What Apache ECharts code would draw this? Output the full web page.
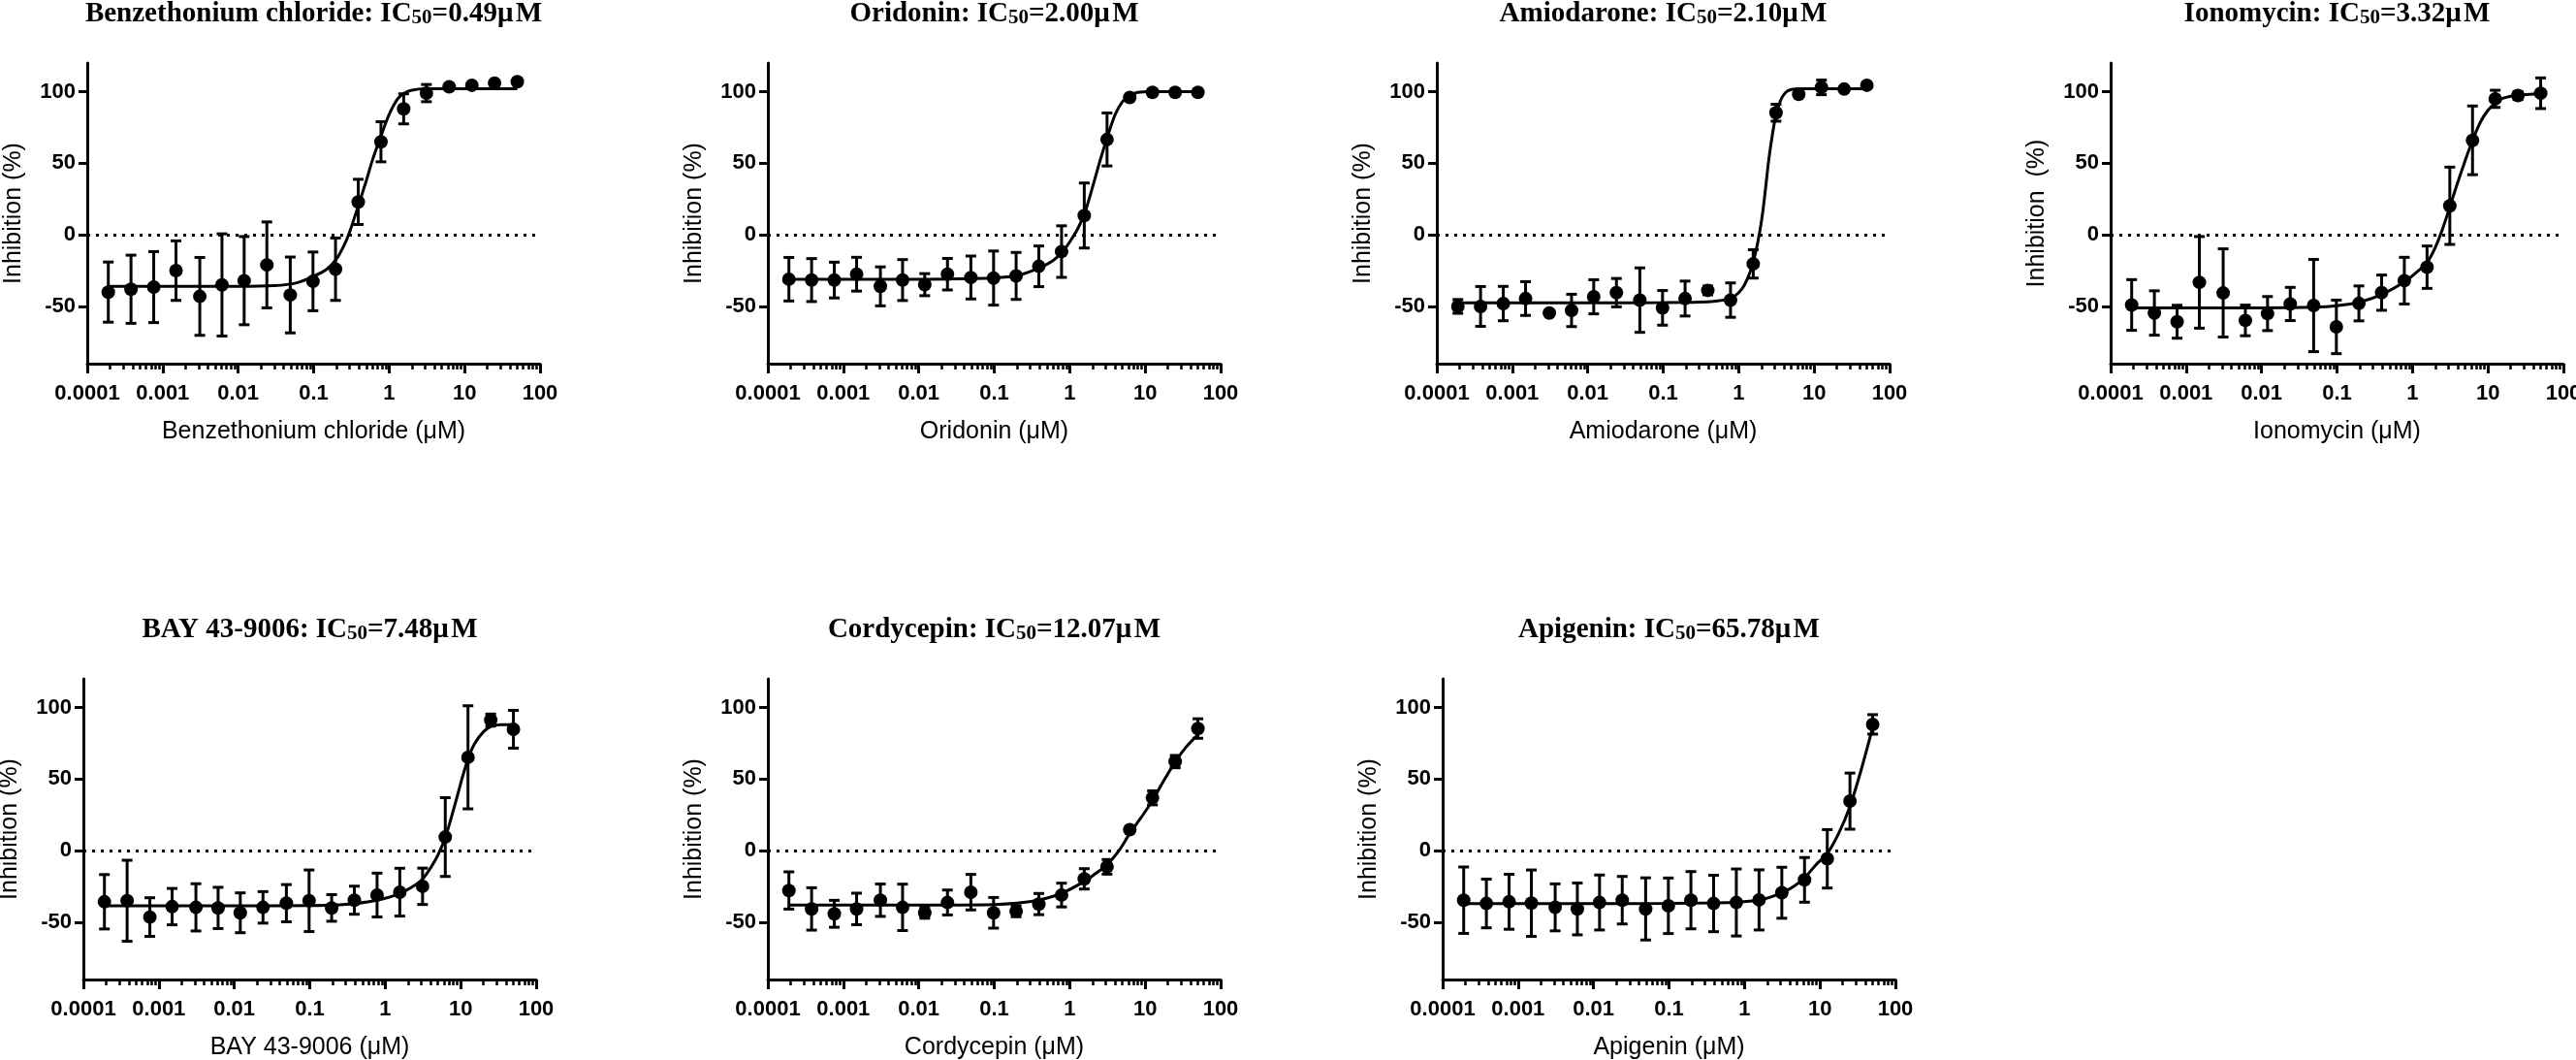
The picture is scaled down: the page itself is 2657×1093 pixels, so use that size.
<!DOCTYPE html>
<html>
<head>
<meta charset="utf-8">
<script src="https://cdn.jsdelivr.net/npm/echarts@6/dist/echarts.min.js"></script>
<style>
  html,body{margin:0;padding:0;background:#fff;}
  #chart{width:2657px;height:1093px;}
</style>
</head>
<body>
<div id="chart"></div>
<script>
// doses (µM), 2-fold dilution from 50
const doses = [0.00019,0.00038,0.00076,0.0015,0.0031,0.0061,0.012,0.024,0.049,0.098,0.195,0.39,0.78,1.56,3.125,6.25,12.5,25,50];

const names = ["Benzethonium chloride","Oridonin","Amiodarone","Ionomycin","BAY 43-9006","Cordycepin","Apigenin"];
const ic50Text = ["0.49","2.00","2.10","3.32","7.48","12.07","65.78"];
const yNames = ["Inhibition (%)","Inhibition (%)","Inhibition (%)","Inhibition  (%)","Inhibition (%)","Inhibition (%)","Inhibition (%)"];

const yTicks = [-50,0,50,100];
const xTicks = [0.0001,0.001,0.01,0.1,1,10,100];
const xTickLabels = ["0.0001","0.001","0.01","0.1","1","10","100"];
const xMinor = [0.0002,0.0003,0.0004,0.0005,0.0006,0.0007,0.0008,0.0009,
  0.002,0.003,0.004,0.005,0.006,0.007,0.008,0.009,
  0.02,0.03,0.04,0.05,0.06,0.07,0.08,0.09,
  0.2,0.3,0.4,0.5,0.6,0.7,0.8,0.9,
  2,3,4,5,6,7,8,9,
  20,30,40,50,60,70,80,90];

// mean / SD per compound
const benzMean = [-40,-38,-36.5,-25,-43,-35,-32,-21,-42,-32.5,-24,23,65,88,99,103.4,104.5,106,107];
const benzSd   = [21,23.8,24.8,20.8,27.2,35.7,30.8,30,26.5,20.5,21.8,15.8,14,10.5,6,0,0,0,0];
const oriMean  = [-31,-31.6,-31.6,-27.5,-36,-31.6,-34.8,-27.5,-29.8,-30.2,-28.7,-22,-11.7,13.5,66.6,96,99.5,99.5,99.5];
const oriSd    = [15.2,15,12.5,11.8,13.6,14.3,7.7,11,15,18.9,16.4,14.2,18,22.7,18.5,0,0,0,0];
const amioMean = [-50,-50,-48,-44.5,-54.6,-52.8,-43.3,-40.4,-45.6,-51,-44.5,-38.8,-45.6,-20.3,85.3,98.2,103,101.8,104.5];
const amioSd   = [4.8,13.9,12,11.8,0,11.3,11.9,9.9,22.5,12.1,12.2,3,12,9.9,5.9,0,5.1,0,0];
const ionoMean = [-49,-54.6,-60.7,-33.2,-40.6,-59.8,-55,-48.3,-49.4,-64.3,-47.9,-40.4,-32,-22.6,20.3,66,95,97.3,98.9];
const ionoSd   = [17.7,15.5,11.5,32,30.8,10.7,11.9,11.6,32.2,18.7,12.2,12.3,16.3,14.8,27,24,6,2.8,10.7];
const bayMean  = [-35.7,-35,-46.4,-39.1,-39.6,-40,-43.4,-39.6,-36.7,-35,-40,-34.6,-31,-29,-24.9,9.5,65.2,91.2,84.8];
const baySd    = [19,28.3,13.5,12.7,16.5,14.4,13.9,11,13,21.5,9.3,9.8,15.3,16.7,12.7,27.5,36,4.2,13.2];
const cordMean = [-27.8,-40.7,-44.1,-40.7,-34.6,-39.6,-43.4,-36.2,-29,-43.4,-42.3,-37.3,-31,-19.7,-11.3,14.7,36.9,62.2,85.3];
const cordSd   = [13,14.8,9.4,11,11.3,16.2,3.8,8.7,12.4,10.7,3.8,7.4,8.3,7.1,5.1,0,4.9,4.3,6.8];
const apiMean  = [-34.6,-36.9,-35.7,-36.7,-39.6,-40.7,-36.2,-34.6,-40.7,-38.5,-34.6,-36.9,-36.2,-34.4,-29.4,-20.4,-5.7,34.6,88.2];
const apiSd    = [23.2,17,19.2,23.2,16.4,18.1,19.2,16.6,21.7,19.4,20,19.7,23.4,21,17.8,15.6,20.4,19.6,6.8];

// fitted curves
const benzFitX = [0.00019,0.001,0.01,0.03,0.06,0.1,0.15,0.2,0.25,0.3,0.4,0.5,0.6,0.78,1,1.3,1.6,2,3,6,12,25,50];
const benzFitY = [-36,-36,-36,-35.5,-33.5,-29,-24,-17,-8,2,22,38,52,69,84,95,99,101,102,102,102,102,102];
const oriFitX  = [0.00019,0.001,0.01,0.05,0.1,0.2,0.4,0.6,0.8,1,1.3,1.6,2,2.5,3.1,4,5,6.25,8,12,25,50];
const oriFitY  = [-31,-31,-31,-30.5,-30,-28.5,-23,-18,-12,-5,5,16,33,51,67,84,93,97.5,99.5,100,100,100];
const amioFitX = [0.00019,0.001,0.01,0.1,0.3,0.5,0.7,0.9,1.1,1.3,1.5,1.7,1.9,2.1,2.3,2.5,2.8,3.1,3.6,4.2,5,7,12,25,50];
const amioFitY = [-47.5,-47.5,-47.5,-47.3,-47,-46.3,-45,-42.5,-38,-31,-22,-11,2,17,35,52,70,83,94,99.5,101.5,102,102,102,102];
const ionoFitX = [0.00019,0.001,0.01,0.05,0.1,0.2,0.4,0.8,1.2,1.56,2,2.5,3.1,4,5,6.25,8,10,12.5,16,25,50];
const ionoFitY = [-51,-51,-51,-50.5,-49.5,-47,-41.5,-32.5,-25,-19.5,-9,4,19,37,52,66,79,87,92,95.5,97.5,98.5];
const bayFitX  = [0.00019,0.001,0.01,0.1,0.2,0.4,0.8,1.56,2.5,3.1,4,5,6.25,7.5,9,10.5,12.5,15,20,26,35,50];
const bayFitY  = [-38.5,-38.5,-38.5,-38.3,-38,-37,-34.5,-30,-24,-20,-12,-3,9,23,38,51,64,74,83,87,88,88];
const cordFitX = [0.00019,0.001,0.01,0.1,0.2,0.39,0.78,1.56,2.2,3.1,4.5,6.25,8.8,12.5,17.7,25,35,50];
const cordFitY = [-38,-38,-38,-37.6,-36.7,-34.5,-29.8,-21.5,-16,-10,0,12,23,35,49,62,72.5,81];
const apiFitX  = [0.00019,0.001,0.01,0.1,0.4,0.8,1.56,2.2,3.1,4.5,6.25,8.8,12.5,17.7,25,35,50];
const apiFitY  = [-37,-37,-37,-36.8,-36.5,-36,-34.5,-32.5,-29.5,-25,-19,-10,-2,12,31,56,86];

const means = [benzMean,oriMean,amioMean,ionoMean,bayMean,cordMean,apiMean];
const sds   = [benzSd,oriSd,amioSd,ionoSd,baySd,cordSd,apiSd];
const fitXs = [benzFitX,oriFitX,amioFitX,ionoFitX,bayFitX,cordFitX,apiFitX];
const fitYs = [benzFitY,oriFitY,amioFitY,ionoFitY,bayFitY,cordFitY,apiFitY];

// panel placement (px)
const panelLeft = [90,792,1482,2177,86,792,1488];
const panelTop  = [65,65,65,65,700,700,700];
const panelW = 467, panelH = 310;

const SANS = "'Liberation Sans', Arial, Helvetica, sans-serif";
const SERIF = "'Liberation Serif', 'Times New Roman', serif";

function errorBars(params, api){
  const x = api.value(0), m = api.value(1), s = api.value(2);
  if(!s) return null;
  const top = api.coord([x, m + s]);
  const bot = api.coord([x, m - s]);
  const hw = 5.5;
  const st = { stroke: "#000", lineWidth: 3 };
  return {
    type: "group",
    children: [
      { type: "line", shape: { x1: top[0], y1: top[1], x2: bot[0], y2: bot[1] }, style: st },
      { type: "line", shape: { x1: top[0]-hw, y1: top[1], x2: top[0]+hw, y2: top[1] }, style: st },
      { type: "line", shape: { x1: bot[0]-hw, y1: bot[1], x2: bot[0]+hw, y2: bot[1] }, style: st }
    ]
  };
}

const grids = [], xAxes = [], yAxes = [], series = [], titles = [];

names.forEach((nm, i)=>{
  grids.push({ left: panelLeft[i], top: panelTop[i], width: panelW, height: panelH, outerBoundsMode: "none" });

  titles.push({
    text: `{m|${nm}: IC}{s|50}{m|=${ic50Text[i]}μ\u200AM}`,
    left: panelLeft[i] + panelW/2,
    top: panelTop[i] - 64,
    textAlign: "center",
    padding: 0,
    textStyle: {
      rich: {
        m: { fontFamily: SERIF, fontWeight: "bold", fontSize: 29, color: "#000", lineHeight: 28 },
        s: { fontFamily: SERIF, fontWeight: "bold", fontSize: 21, color: "#000", lineHeight: 9, verticalAlign: "bottom" }
      }
    }
  });

  // main x axis (decades + labels)
  xAxes.push({
    type: "log", logBase: 10, gridIndex: i, position: "bottom",
    min: 0.0001, max: 100,
    name: `${nm} (μM)`, nameLocation: "middle", nameGap: 58,
    nameTextStyle: { fontFamily: SANS, fontSize: 25, color: "#000" },
    axisLine: { show: true, onZero: false, lineStyle: { color: "#000", width: 3 } },
    axisTick: { show: true, length: 10, customValues: xTicks, lineStyle: { color: "#000", width: 3 } },
    axisLabel: {
      customValues: xTicks, margin: 20, fontFamily: SANS, fontSize: 22, fontWeight: "bold", color: "#000",
      formatter: v => xTickLabels[Math.round(Math.log10(v)) + 4]
    },
    splitLine: { show: false }, minorTick: { show: false }
  });
  // minor ticks only
  xAxes.push({
    type: "log", logBase: 10, gridIndex: i, position: "bottom",
    min: 0.0001, max: 100,
    axisLine: { show: false, onZero: false },
    axisTick: { show: true, length: 6, customValues: xMinor, lineStyle: { color: "#000", width: 2.5 } },
    axisLabel: { show: false },
    splitLine: { show: false }
  });

  yAxes.push({
    type: "value", gridIndex: i, min: -90, max: 120,
    name: yNames[i], nameLocation: "middle", nameGap: 63, nameRotate: 90,
    nameTextStyle: { fontFamily: SANS, fontSize: 25, color: "#000" },
    axisLine: { show: true, onZero: false, lineStyle: { color: "#000", width: 3 } },
    axisTick: { show: true, length: 9, customValues: yTicks, lineStyle: { color: "#000", width: 3 } },
    axisLabel: { customValues: yTicks, margin: 12, fontFamily: SANS, fontSize: 22, fontWeight: "bold", color: "#000" },
    splitLine: { show: false }
  });

  series.push({
    type: "custom", xAxisIndex: 2*i, yAxisIndex: i,
    renderItem: errorBars, encode: { x: 0, y: 1 },
    data: doses.map((d,k)=> [d, means[i][k], sds[i][k]]),
    z: 2, silent: true
  });
  series.push({
    type: "line", xAxisIndex: 2*i, yAxisIndex: i,
    data: fitXs[i].map((x,k)=> [x, fitYs[i][k]]),
    smooth: 0.3, showSymbol: false, symbol: "none",
    lineStyle: { color: "#000", width: 3 },
    z: 3, silent: true,
    markLine: {
      silent: true, symbol: "none", label: { show: false },
      lineStyle: { color: "#000", width: 3, type: [3, 6] },
      data: [{ yAxis: 0 }]
    }
  });
  series.push({
    type: "scatter", xAxisIndex: 2*i, yAxisIndex: i,
    data: doses.map((d,k)=> [d, means[i][k]]),
    symbol: "circle", symbolSize: 14,
    itemStyle: { color: "#000", opacity: 1 },
    z: 4, silent: true
  });
});

const chart = echarts.init(document.getElementById("chart"));
chart.setOption({
  animation: false,
  backgroundColor: "#fff",
  title: titles,
  grid: grids,
  xAxis: xAxes,
  yAxis: yAxes,
  series: series
});
</script>
</body>
</html>
